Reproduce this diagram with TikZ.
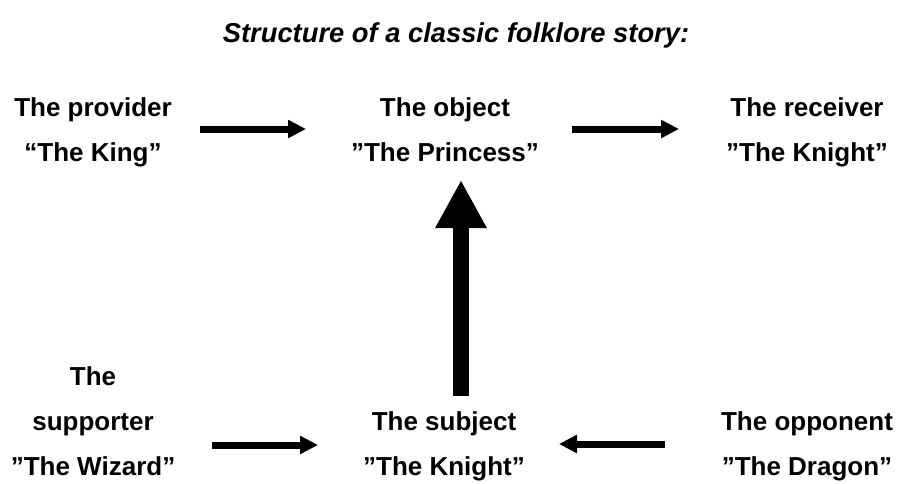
\documentclass[tikz,border=0pt]{standalone}
\usepackage{fontspec}
\setmainfont{Liberation Sans}
\usetikzlibrary{arrows.meta}
\begin{document}
\begin{tikzpicture}[x=0.75pt,y=-0.75pt,
  role/.style={align=center,inner sep=0pt,font=\bfseries\fontsize{19.5}{33.75}\selectfont},
  thin arrow/.style={line width=5.25pt,-{Triangle[length=13.5pt,width=13pt]}},
  big arrow/.style={line width=12pt,-{Triangle[length=36pt,width=36pt]}}]
\useasboundingbox (0,0) rectangle (899,483);
\node[anchor=base,font=\bfseries\itshape\fontsize{20.5}{24}\selectfont] (title) at (456,42) {Structure of a classic folklore story:};
\node[role] (prov) at (93,132.5) {The provider\\“The King”};
\node[role] (obj) at (445,130) {The object\\”The Princess”};
\node[role] (recv) at (807,132.5) {The receiver\\”The Knight”};
\node[role] (supp) at (93,421) {The\\supporter\\”The Wizard”};
\node[role] (subj) at (444,446.5) {The subject\\”The Knight”};
\node[role] (opp) at (807,446.5) {The opponent\\”The Dragon”};
\coordinate (a1s) at (200,129);
\coordinate (a1e) at (306,129);
\coordinate (a2s) at (572,129);
\coordinate (a2e) at (679,129);
\coordinate (a3s) at (212,445);
\coordinate (a3e) at (318,445);
\coordinate (a4s) at (665,444);
\coordinate (a4e) at (559,444);
\coordinate (a5s) at (461,396);
\coordinate (a5e) at (461,180);
\draw[thin arrow] (a1s) -- (a1e);
\draw[thin arrow] (a2s) -- (a2e);
\draw[thin arrow] (a3s) -- (a3e);
\draw[thin arrow] (a4s) -- (a4e);
\draw[big arrow] (a5s) -- (a5e);
\end{tikzpicture}
\end{document}
